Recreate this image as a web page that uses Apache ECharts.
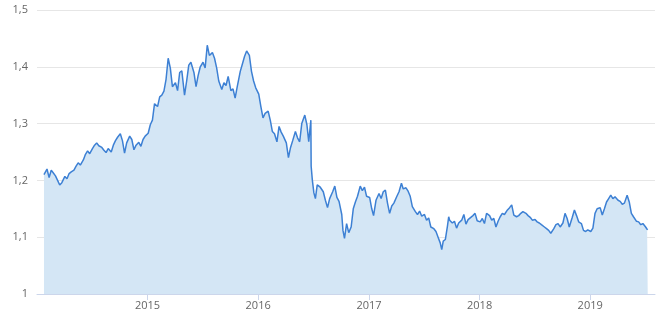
<!DOCTYPE html>
<html>
<head>
<meta charset="utf-8">
<script src="https://cdn.jsdelivr.net/npm/echarts@6/dist/echarts.min.js"></script>
<style>
html,body{margin:0;padding:0;background:#fff;}
#chart{width:666px;height:317px;}
</style>
</head>
<body>
<div id="chart"></div>
<script>
const rates2014 = [
['2014-01-24',1.210],
['2014-02-03',1.220],['2014-02-10',1.205],['2014-02-17',1.218],['2014-02-24',1.213],
['2014-03-03',1.208],['2014-03-10',1.200],['2014-03-17',1.192],['2014-03-24',1.196],
['2014-04-03',1.207],['2014-04-10',1.203],['2014-04-17',1.212],['2014-04-24',1.215],
['2014-05-03',1.218],['2014-05-10',1.225],['2014-05-17',1.231],['2014-05-24',1.227],
['2014-06-03',1.236],['2014-06-10',1.246],['2014-06-17',1.252],['2014-06-24',1.247],
['2014-07-03',1.256],['2014-07-10',1.262],['2014-07-17',1.266],['2014-07-24',1.261],
['2014-08-03',1.258],['2014-08-10',1.253],['2014-08-17',1.249],['2014-08-24',1.256],
['2014-09-03',1.250],['2014-09-10',1.262],['2014-09-17',1.270],['2014-09-24',1.276],
['2014-10-03',1.282],['2014-10-10',1.270],['2014-10-17',1.248],['2014-10-24',1.266],
['2014-11-03',1.278],['2014-11-10',1.272],['2014-11-17',1.254],['2014-11-24',1.262],
['2014-12-03',1.267],['2014-12-10',1.260],['2014-12-17',1.272],['2014-12-24',1.278]
];
const rates2015 = [
['2015-01-03',1.283],['2015-01-10',1.298],['2015-01-17',1.306],['2015-01-24',1.335],
['2015-02-03',1.330],['2015-02-10',1.347],['2015-02-17',1.350],['2015-02-24',1.357],
['2015-03-03',1.378],['2015-03-10',1.415],['2015-03-17',1.398],['2015-03-24',1.365],
['2015-04-03',1.372],['2015-04-10',1.358],['2015-04-17',1.390],['2015-04-24',1.393],
['2015-05-03',1.350],['2015-05-10',1.375],['2015-05-17',1.403],['2015-05-24',1.408],
['2015-06-03',1.390],['2015-06-10',1.365],['2015-06-17',1.385],['2015-06-24',1.400],
['2015-07-03',1.408],['2015-07-10',1.398],['2015-07-17',1.438],['2015-07-24',1.420],
['2015-08-03',1.425],['2015-08-10',1.415],['2015-08-17',1.398],['2015-08-24',1.375],
['2015-09-03',1.360],['2015-09-10',1.372],['2015-09-17',1.367],['2015-09-24',1.383],
['2015-10-03',1.358],['2015-10-10',1.361],['2015-10-17',1.345],['2015-10-24',1.365],
['2015-11-03',1.392],['2015-11-10',1.405],['2015-11-17',1.418],['2015-11-24',1.428],
['2015-12-03',1.420],['2015-12-10',1.392],['2015-12-17',1.375],['2015-12-24',1.363]
];
const rates2016 = [
['2016-01-03',1.352],['2016-01-10',1.330],['2016-01-17',1.310],['2016-01-24',1.318],
['2016-02-03',1.322],['2016-02-10',1.306],['2016-02-17',1.286],['2016-02-24',1.282],
['2016-03-03',1.268],['2016-03-10',1.295],['2016-03-17',1.285],['2016-03-24',1.278],
['2016-04-03',1.266],['2016-04-10',1.240],['2016-04-17',1.258],['2016-04-24',1.270],
['2016-05-03',1.286],['2016-05-10',1.275],['2016-05-17',1.268],['2016-05-24',1.300],
['2016-06-03',1.315],['2016-06-10',1.298],['2016-06-16',1.268],['2016-06-23',1.306],
['2016-06-24',1.225],['2016-06-28',1.200],
['2016-07-03',1.178],['2016-07-08',1.168],['2016-07-14',1.192],['2016-07-24',1.188],
['2016-08-03',1.180],['2016-08-10',1.165],['2016-08-17',1.152],['2016-08-24',1.168],
['2016-09-03',1.180],['2016-09-10',1.190],['2016-09-17',1.170],['2016-09-24',1.163],
['2016-10-03',1.140],['2016-10-07',1.112],['2016-10-12',1.098],['2016-10-19',1.124],
['2016-10-26',1.108],
['2016-11-03',1.118],['2016-11-10',1.150],['2016-11-17',1.162],['2016-11-24',1.172],
['2016-12-03',1.190],['2016-12-10',1.182],['2016-12-17',1.188],['2016-12-24',1.172]
];
const rates2017 = [
['2017-01-03',1.170],['2017-01-10',1.150],['2017-01-16',1.138],['2017-01-24',1.165],
['2017-02-03',1.177],['2017-02-10',1.168],['2017-02-17',1.180],['2017-02-24',1.183],
['2017-03-03',1.160],['2017-03-10',1.142],['2017-03-17',1.155],['2017-03-24',1.160],
['2017-04-03',1.172],['2017-04-10',1.180],['2017-04-18',1.195],['2017-04-24',1.185],
['2017-05-03',1.187],['2017-05-10',1.181],['2017-05-17',1.172],['2017-05-24',1.154],
['2017-06-03',1.145],['2017-06-10',1.140],['2017-06-17',1.146],['2017-06-24',1.137],
['2017-07-03',1.140],['2017-07-10',1.130],['2017-07-17',1.134],['2017-07-24',1.118],
['2017-08-03',1.115],['2017-08-10',1.110],['2017-08-17',1.100],['2017-08-24',1.090],
['2017-08-29',1.078],
['2017-09-03',1.093],['2017-09-10',1.096],['2017-09-17',1.120],['2017-09-21',1.136],
['2017-09-24',1.130],
['2017-10-03',1.125],['2017-10-10',1.128],['2017-10-17',1.116],['2017-10-24',1.125],
['2017-11-03',1.130],['2017-11-10',1.140],['2017-11-17',1.123],['2017-11-24',1.131],
['2017-12-03',1.135],['2017-12-10',1.138],['2017-12-17',1.142],['2017-12-24',1.129]
];
const rates2018 = [
['2018-01-03',1.127],['2018-01-10',1.133],['2018-01-17',1.124],['2018-01-24',1.142],
['2018-02-03',1.138],['2018-02-10',1.130],['2018-02-17',1.133],['2018-02-24',1.118],
['2018-03-03',1.128],['2018-03-10',1.136],['2018-03-17',1.142],['2018-03-24',1.140],
['2018-04-03',1.148],['2018-04-10',1.152],['2018-04-17',1.157],['2018-04-24',1.139],
['2018-05-03',1.136],['2018-05-10',1.138],['2018-05-17',1.142],['2018-05-24',1.145],
['2018-06-03',1.142],['2018-06-10',1.138],['2018-06-17',1.135],['2018-06-24',1.130],
['2018-07-03',1.131],['2018-07-10',1.127],['2018-07-17',1.125],['2018-07-24',1.122],
['2018-08-03',1.118],['2018-08-10',1.115],['2018-08-17',1.112],['2018-08-24',1.107],
['2018-09-03',1.115],['2018-09-10',1.122],['2018-09-17',1.124],['2018-09-24',1.118],
['2018-10-03',1.125],['2018-10-10',1.142],['2018-10-17',1.133],['2018-10-24',1.118],
['2018-11-03',1.135],['2018-11-10',1.148],['2018-11-17',1.138],['2018-11-24',1.127],
['2018-12-03',1.124],['2018-12-10',1.112],['2018-12-17',1.110],['2018-12-24',1.113]
];
const rates2019 = [
['2019-01-03',1.110],['2019-01-10',1.116],['2019-01-17',1.142],['2019-01-24',1.150],
['2019-02-03',1.152],['2019-02-10',1.139],['2019-02-17',1.150],['2019-02-24',1.162],
['2019-03-03',1.168],['2019-03-10',1.174],['2019-03-17',1.168],['2019-03-24',1.171],
['2019-04-03',1.165],['2019-04-10',1.163],['2019-04-17',1.158],['2019-04-24',1.160],
['2019-05-03',1.174],['2019-05-10',1.162],['2019-05-17',1.142],['2019-05-24',1.136],
['2019-06-03',1.128],['2019-06-10',1.127],['2019-06-17',1.122],['2019-06-24',1.124],
['2019-07-03',1.118],['2019-07-08',1.114],['2019-07-10',1.113]
];
const yearTicks = ['2015-01-01','2016-01-01','2017-01-01','2018-01-01','2019-01-01'];
const yTicks = [1, 1.1, 1.2, 1.3, 1.4, 1.5];
const xRange = ['2014-01-01','2019-08-03'];

const toTime = d => Date.UTC(+d.slice(0,4), +d.slice(5,7) - 1, +d.slice(8,10));
const series = [].concat(rates2014, rates2015, rates2016, rates2017, rates2018, rates2019)
  .map(p => [toTime(p[0]), p[1]]);
const tickTimes = yearTicks.map(toTime);

const chart = echarts.init(document.getElementById('chart'), null, {renderer: 'canvas'});
chart.setOption({
  animation: false,
  grid: {left: 37, right: 11, top: 10, bottom: 23, containLabel: false},
  xAxis: {
    type: 'value',
    min: toTime(xRange[0]),
    max: toTime(xRange[1]),
    axisLine: {show: true, onZero: false, lineStyle: {color: '#ccd6eb', width: 1}},
    axisTick: {show: true, customValues: tickTimes, length: 6, lineStyle: {color: '#ccd6eb'}},
    splitLine: {show: false},
    axisLabel: {
      customValues: tickTimes,
      formatter: v => String(new Date(v).getUTCFullYear()),
      color: '#666666', fontFamily: 'Open Sans', fontSize: 11, margin: 6
    }
  },
  yAxis: {
    type: 'value',
    min: yTicks[0], max: yTicks[yTicks.length - 1], interval: 0.1,
    axisLine: {show: false},
    axisTick: {show: false},
    splitLine: {lineStyle: {color: '#e6e6e6', width: 1}},
    axisLabel: {
      formatter: v => String(Math.round(v * 10) / 10).replace('.', ','),
      color: '#666666', fontFamily: 'Open Sans', fontSize: 11, margin: 9
    }
  },
  series: [{
    type: 'line',
    data: series,
    showSymbol: false,
    smooth: false,
    lineStyle: {color: '#3d80d4', width: 1.5},
    areaStyle: {color: '#d4e6f5', opacity: 1},
    z: 2
  }]
});
</script>
</body>
</html>
